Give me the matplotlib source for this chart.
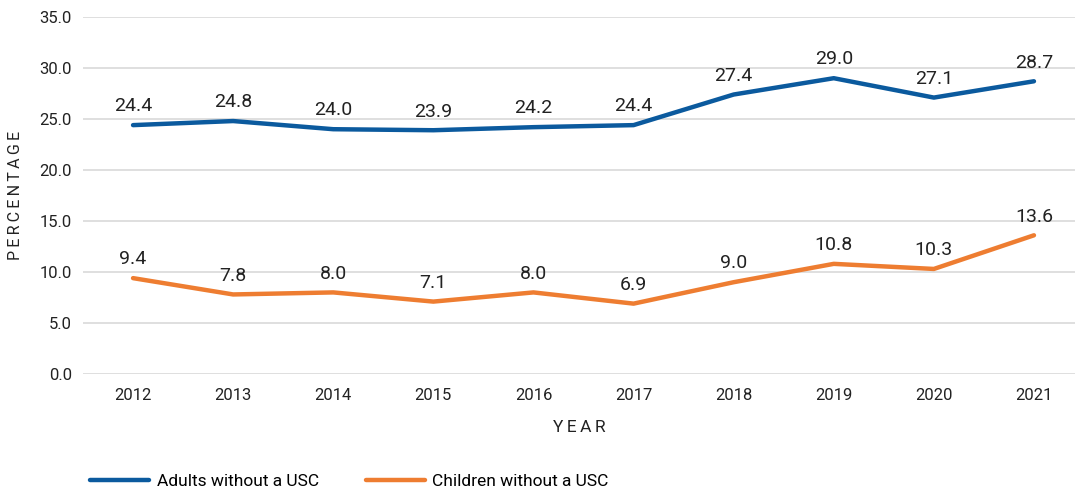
import matplotlib
matplotlib.use("Agg")
import matplotlib.pyplot as plt

plt.rcParams['font.family'] = ['Roboto', 'DejaVu Sans']

years = ['2012', '2013', '2014', '2015', '2016', '2017', '2018', '2019', '2020', '2021']
adults = [24.4, 24.8, 24.0, 23.9, 24.2, 24.4, 27.4, 29.0, 27.1, 28.7]
children = [9.4, 7.8, 8.0, 7.1, 8.0, 6.9, 9.0, 10.8, 10.3, 13.6]
yticks = [0, 5, 10, 15, 20, 25, 30, 35]

blue = '#0B5A9E'
orange = '#EE7D31'

fig = plt.figure(figsize=(10.75, 4.9), dpi=100)
ax = fig.add_axes([0.0772, 0.2367, 0.9228, 0.7286])

x = list(range(len(years)))
ax.plot(x, adults, color=blue, lw=3.2, solid_capstyle='round', label='Adults without a USC', zorder=3)
ax.plot(x, children, color=orange, lw=3.2, solid_capstyle='round', label='Children without a USC', zorder=3)

for i, v in enumerate(adults):
    ax.annotate(f'{v:.1f}', (i, v), xytext=(0, 7), textcoords='offset points',
                ha='center', va='bottom', fontsize=14, color='#222222')
for i, v in enumerate(children):
    ax.annotate(f'{v:.1f}', (i, v), xytext=(0, 7), textcoords='offset points',
                ha='center', va='bottom', fontsize=14, color='#222222')

ax.set_xlim(-0.5, 9.41)
ax.set_ylim(0, 35)
ax.set_yticks(yticks)
ax.set_yticklabels([f'{t:.1f}' for t in yticks])
ax.set_xticks(x)
ax.set_xticklabels(years)
ax.tick_params(axis='both', length=0, labelsize=12, colors='#222222')
ax.tick_params(axis='y', pad=8)
ax.tick_params(axis='x', pad=10)
ax.grid(axis='y', color='#d9d9d9', lw=1.2)
ax.set_axisbelow(True)
for s in ax.spines.values():
    s.set_visible(False)

ax.set_ylabel('\u2009'.join('PERCENTAGE'), fontsize=11.5, color='#222222', labelpad=12)
ax.set_xlabel('\u2009'.join('YEAR'), fontsize=12.5, color='#222222', labelpad=12)

fig.legend(loc='lower left', bbox_to_anchor=(0.069, -0.03), ncol=2, frameon=False,
           fontsize=12.5, handlelength=3.4, handletextpad=0.45, columnspacing=2.7)

fig.savefig('out.png', dpi=100)
